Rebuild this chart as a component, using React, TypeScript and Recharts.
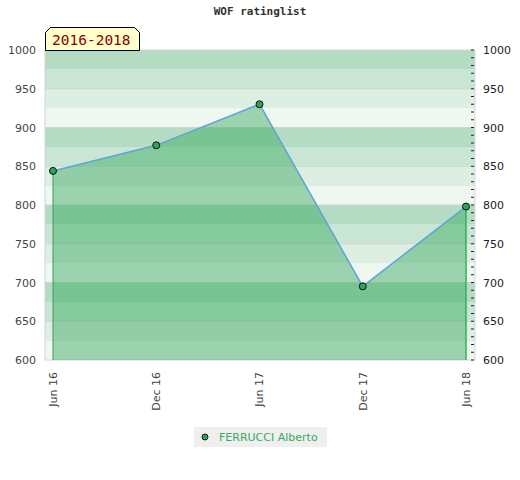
import {
  ComposedChart,
  Area,
  Line,
  XAxis,
  YAxis,
  CartesianGrid,
  ReferenceLine,
  Legend,
} from 'recharts';

const PERIODS = ['Jun 16', 'Dec 16', 'Jun 17', 'Dec 17', 'Jun 18'];
const RATINGS = [844, 877, 930, 695, 798];
const PLAYER = 'FERRUCCI Alberto';

const Y_DOMAIN = [600, 1000];
const Y_TICKS = [600, 650, 700, 750, 800, 850, 900, 950, 1000];
const MINOR_TICKS = Array.from({ length: 41 }, (_, i) => 600 + i * 10);
const BAND_EDGES = [1000, 975, 950, 925, 900, 875, 850, 825, 800, 775, 750, 725, 700, 675, 650, 625, 600];
// top to bottom inside each 100-point block
const BAND_FILLS = ['#b3dcc2', '#c9e6d4', '#ddeee3', '#eff7f1'];

const data = PERIODS.map((period, i) => ({ period, rating: RATINGS[i] }));

const GREEN = '#2ca456';
const FONT = '"DejaVu Sans", sans-serif';

function bandPoints({ yAxis, offset }: any) {
  if (yAxis && typeof yAxis.scale === 'function') return BAND_EDGES.map((v) => yAxis.scale(v));
  if (yAxis && yAxis.scale && typeof yAxis.scale.map === 'function') return BAND_EDGES.map((v) => yAxis.scale.map(v));
  const [lo, hi] = Y_DOMAIN;
  return BAND_EDGES.map((v) => offset.top + ((hi - v) / (hi - lo)) * offset.height);
}

function LeftTick({ x, y, payload }: any) {
  return (
    <text x={x} y={y} dy={4} textAnchor="end" fontSize={11} fontFamily={FONT} fill="#444">
      {payload.value}
    </text>
  );
}

function RightTick({ x, y, payload }: any) {
  const major = payload.value % 50 === 0;
  return (
    <g>
      <line x1={x - 4} x2={x - 1} y1={y} y2={y} stroke="#222" strokeWidth={1} />
      {major && (
        <text x={x + 8} y={y} dy={4} textAnchor="start" fontSize={11} fontFamily={FONT} fill="#222">
          {payload.value}
        </text>
      )}
    </g>
  );
}

function XTick({ x, y, payload }: any) {
  return (
    <g transform={`translate(${x},${y})`}>
      <text transform="rotate(-90)" textAnchor="end" dy="0.35em" fontSize={11} fontFamily={FONT} fill="#444">
        {payload.value}
      </text>
    </g>
  );
}

function LegendBox() {
  return (
    <div
      style={{
        width: 133,
        height: 20,
        background: '#efefef',
        display: 'flex',
        alignItems: 'center',
        fontFamily: FONT,
        fontSize: 11,
        color: '#3aa862',
      }}
    >
      <svg width={25} height={20}>
        <circle cx={11} cy={10} r={3} fill={GREEN} stroke="#111" strokeWidth={1} />
      </svg>
      <span>{PLAYER}</span>
    </div>
  );
}

export default function App() {
  return (
    <div style={{ position: 'absolute', left: 0, top: 0, width: 520, height: 480, background: '#fff' }}>
      <div
        style={{
          position: 'absolute',
          top: 5,
          width: 520,
          textAlign: 'center',
          fontFamily: '"DejaVu Sans Mono", monospace',
          fontWeight: 'bold',
          fontSize: 11,
          color: '#333',
        }}
      >
        WOF ratinglist
      </div>
      <ComposedChart width={520} height={480} data={data} margin={{ top: 50, right: 0, bottom: 60, left: 0 }}>
        <CartesianGrid
          yAxisId="left"
          vertical={false}
          stroke="none"
          horizontalFill={BAND_EDGES.slice(0, -1).map((_, i) => BAND_FILLS[i % 4])}
          fillOpacity={1}
          horizontalCoordinatesGenerator={bandPoints}
        />
        <CartesianGrid
          yAxisId="left"
          stroke="#d4d4d4"
          strokeWidth={1}
          verticalCoordinatesGenerator={({ offset }: any) => [offset.left, offset.left + offset.width]}
        />
        <XAxis
          dataKey="period"
          height={60}
          padding={{ left: 8, right: 9 }}
          axisLine={false}
          tickLine={false}
          tickSize={0}
          tickMargin={12}
          interval={0}
          tick={<XTick />}
        />
        <YAxis
          yAxisId="left"
          width={45}
          domain={Y_DOMAIN}
          ticks={Y_TICKS}
          axisLine={false}
          tickLine={false}
          tickSize={0}
          tickMargin={9}
          tick={<LeftTick />}
        />
        <YAxis
          yAxisId="right"
          orientation="right"
          width={45}
          domain={Y_DOMAIN}
          ticks={MINOR_TICKS}
          interval={0}
          axisLine={false}
          tickLine={false}
          tickSize={0}
          tickMargin={0}
          tick={<RightTick />}
        />
        <Area
          yAxisId="left"
          type="linear"
          dataKey="rating"
          fill={GREEN}
          fillOpacity={0.43}
          stroke="none"
          baseValue={600}
          dot={false}
          activeDot={false}
          isAnimationActive={false}
        />
        <ReferenceLine
          yAxisId="left"
          segment={[
            { x: PERIODS[0], y: 600 },
            { x: PERIODS[0], y: RATINGS[0] },
          ]}
          stroke="#3f9a5e"
          strokeWidth={1}
        />
        <ReferenceLine
          yAxisId="left"
          segment={[
            { x: PERIODS[PERIODS.length - 1], y: 600 },
            { x: PERIODS[PERIODS.length - 1], y: RATINGS[RATINGS.length - 1] },
          ]}
          stroke="#2fb35c"
          strokeWidth={1.5}
        />
        <Line
          yAxisId="right"
          type="linear"
          dataKey="rating"
          name={PLAYER}
          stroke="#5ea3da"
          strokeWidth={1.5}
          dot={{ r: 3.5, fill: GREEN, stroke: '#111', strokeWidth: 1, fillOpacity: 1 }}
          activeDot={false}
          isAnimationActive={false}
        />
        <Legend
          layout="horizontal"
          verticalAlign="middle"
          align="center"
          wrapperStyle={{ top: 427, left: 194, width: 133 }}
          content={() => <LegendBox />}
        />
      </ComposedChart>
      <svg style={{ position: 'absolute', left: 0, top: 0 }} width={150} height={52}>
        <polygon points="45.5,50.5 45.5,32.5 50.5,27.5 134.5,27.5 139.5,32.5 139.5,50.5" fill="#ffffcc" stroke="#000" strokeWidth={1} />
        <text x={52} y={45} fontFamily='"DejaVu Sans Mono", monospace' fontSize={14.5} fill="#8b0000">
          2016-2018
        </text>
      </svg>
    </div>
  );
}
